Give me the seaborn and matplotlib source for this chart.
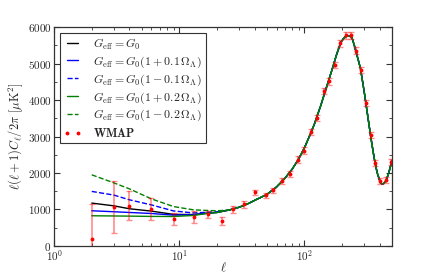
"""CMB power spectrum with modified G_eff vs WMAP binned data"""
import numpy as np
import pandas as pd
import matplotlib
matplotlib.use('Agg')
import matplotlib.pyplot as plt
from matplotlib.ticker import MultipleLocator, LogLocator
import seaborn as sns

# ---- data ----
# low-ell part, one array per model
ell_low = [2, 3, 4, 6, 9, 13, 17, 20]
cl_g0 = [1175, 1100, 1020, 955, 865, 862, 905, 920]
cl_p01 = [965, 938, 918, 890, 845, 855, 898, 918]
cl_m01 = [1495, 1395, 1265, 1125, 960, 905, 925, 935]
cl_p02 = [828, 822, 818, 810, 808, 836, 895, 915]
cl_m02 = [1950, 1730, 1565, 1290, 1080, 990, 972, 965]

# common part where all models agree
ell_high = [25, 30, 35, 40, 50, 60, 70, 80, 90, 100, 110, 120, 135, 150,
            165, 180, 195, 210, 220, 230, 240, 250, 265, 280, 300, 320,
            340, 360, 380, 400, 415, 430, 450, 470, 500]
cl_high = [985, 1060, 1150, 1250, 1410, 1620, 1860, 2110, 2390, 2690,
           3020, 3340, 3850, 4350, 4800, 5230, 5580, 5730, 5750, 5750,
           5700, 5500, 5180, 4870, 4230, 3570, 2950, 2420, 2020, 1780,
           1700, 1710, 1800, 1990, 2330]

# WMAP binned band powers
wmap_ell = [2, 3, 4, 6, 9, 13, 17, 22, 27, 33, 40, 49, 56.5, 66, 76, 88,
            99.5, 112, 126, 143, 157, 174, 193, 213, 235, 256, 282, 309,
            337, 365, 401, 445, 488]
wmap_cl = [200, 1064, 1109, 1018, 745, 791, 864, 673, 1000, 1139, 1467,
           1385, 1522, 1776, 1978, 2369, 2615, 3115, 3509, 4255, 4510,
           4960, 5550, 5770, 5770, 5350, 4820, 3925, 3045, 2268, 1776,
           1814, 2306]
wmap_err = [960, 715, 390, 295, 160, 165, 105, 110, 90, 90, 80, 80, 80,
            80, 80, 85, 85, 85, 85, 85, 85, 85, 90, 90, 90, 90, 85, 85,
            80, 80, 75, 80, 85]

models = [
    (r'$G_{\rm eff}=G_0$', cl_g0, 'k', '-'),
    (r'$G_{\rm eff}=G_0(1+0.1\,\Omega_\Lambda)$', cl_p01, 'b', '-'),
    (r'$G_{\rm eff}=G_0(1-0.1\,\Omega_\Lambda)$', cl_m01, 'b', '--'),
    (r'$G_{\rm eff}=G_0(1+0.2\,\Omega_\Lambda)$', cl_p02, 'g', '-'),
    (r'$G_{\rm eff}=G_0(1-0.2\,\Omega_\Lambda)$', cl_m02, 'g', '--'),
]

sns.set_style('ticks')
plt.rcParams['font.family'] = ['cmr10', 'DejaVu Serif']
plt.rcParams['mathtext.fontset'] = 'cm'
plt.rcParams['axes.formatter.use_mathtext'] = True
plt.rcParams['axes.unicode_minus'] = False

fig = plt.figure(figsize=(4.36, 2.73), dpi=100)
ax = fig.add_axes([0.124, 0.099, 0.775, 0.802])

for label, low, color, ls in models:
    df = pd.DataFrame({'ell': ell_low + ell_high, 'cl': low + cl_high})
    sns.lineplot(data=df, x='ell', y='cl', ax=ax, color=color, linestyle=ls,
                 linewidth=1.0, label=label, sort=False, estimator=None)

# error bars first (faded), then the points
ax.errorbar(wmap_ell, wmap_cl, yerr=wmap_err, fmt='none', ecolor='red',
            alpha=0.45, elinewidth=1.2, capsize=2.5, capthick=1.0)
ax.plot(wmap_ell, wmap_cl, 'r.', markersize=3.5, label=r'$\mathbf{WMAP}$')

ax.set_xscale('log')
ax.set_xlim(1, 500)
ax.set_ylim(0, 6000)
ax.yaxis.set_major_locator(MultipleLocator(1000))
ax.yaxis.set_minor_locator(MultipleLocator(500))
ax.xaxis.set_major_locator(LogLocator(base=10))
ax.xaxis.set_minor_locator(LogLocator(base=10, subs=np.arange(2, 10)))
ax.tick_params(which='both', direction='in', top=True, right=True,
               labelsize=8, color='#333333')
ax.tick_params(which='major', length=4, width=0.8)
ax.tick_params(which='minor', length=2, width=0.6)
ax.tick_params(axis='x', which='major', pad=1.5)
ax.tick_params(axis='y', which='major', pad=2)
for sp in ax.spines.values():
    sp.set_color('#333333')
    sp.set_linewidth(0.9)

ax.set_xlabel(r'$\ell$', fontsize=9, labelpad=-1.5)
ax.set_ylabel(r'$\ell(\ell+1)C_\ell/2\pi\ [\mu{\rm K}^2]$', fontsize=9, labelpad=2)

leg = ax.legend(loc='upper left', fontsize=8.6, numpoints=2, frameon=True,
                fancybox=False, framealpha=1, edgecolor='#333333',
                handlelength=1.5, handletextpad=1.0, borderaxespad=0.5,
                labelspacing=0.22, borderpad=0.3)
leg.get_frame().set_linewidth(0.8)

fig.savefig('out.png', dpi=100)
